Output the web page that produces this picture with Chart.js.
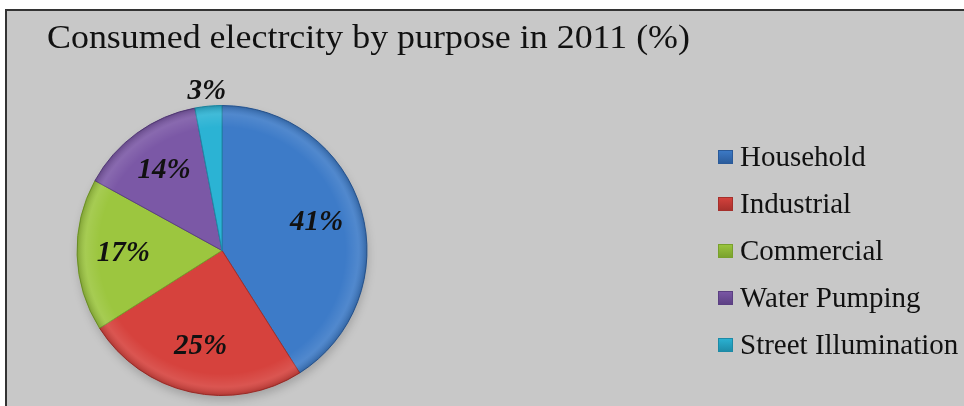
<!DOCTYPE html>
<html>
<head>
<meta charset="utf-8">
<script src="https://cdn.jsdelivr.net/npm/chart.js@4/dist/chart.umd.min.js"></script>
<style>
  html, body { margin: 0; padding: 0; background: #ffffff; }
  #wrap { position: relative; width: 964px; height: 406px; }
  canvas { display: block; }
</style>
</head>
<body>
<div id="wrap"><canvas id="c" width="964" height="406"></canvas></div>
<script>
const titleText = "Consumed electrcity by purpose in 2011 (%)";
const categories = ["Household", "Industrial", "Commercial", "Water Pumping", "Street Illumination"];
const shares = [41, 25, 17, 14, 3];
const sliceColors = ["#3d7bc8", "#d6423d", "#9cc63f", "#7b58a6", "#2bb3d4"];
const sliceEdges = ["#2a5a99", "#a52f2b", "#78a02c", "#5b3f82", "#1d8aa6"];

const framePlugin = {
  id: 'frame',
  beforeDraw(chart) {
    const ctx = chart.ctx;
    ctx.save();
    ctx.fillStyle = '#ffffff';
    ctx.fillRect(0, 0, chart.width, chart.height);
    ctx.fillStyle = '#c8c8c8';
    ctx.fillRect(6, 10, chart.width - 6, chart.height - 10);
    ctx.strokeStyle = '#333333';
    ctx.lineWidth = 2;
    ctx.beginPath();
    ctx.moveTo(6, chart.height);
    ctx.lineTo(6, 10);
    ctx.lineTo(chart.width, 10);
    ctx.stroke();
    ctx.font = '33px "Liberation Serif", "Times New Roman", serif';
    ctx.fillStyle = '#111111';
    ctx.textBaseline = 'alphabetic';
    const w = ctx.measureText(titleText).width;
    const sx = 643 / w;
    ctx.translate(47, 48);
    ctx.scale(sx, 1);
    ctx.fillText(titleText, 0, 0);
    ctx.restore();
    const meta = chart.getDatasetMeta(0);
    if (meta.data.length) {
      const a = meta.data[0];
      ctx.save();
      ctx.fillStyle = 'rgba(0,0,0,0.18)';
      ctx.filter = 'blur(4px)';
      ctx.beginPath();
      ctx.arc(a.x + 1, a.y + 5, a.outerRadius, 0, Math.PI * 2);
      ctx.fill();
      ctx.restore();
    }
  }
};

const labelPlugin = {
  id: 'sliceLabels',
  afterDatasetsDraw(chart) {
    const ctx = chart.ctx;
    const meta = chart.getDatasetMeta(0);
    const vals = chart.data.datasets[0].data;
    ctx.save();
    meta.data.forEach((arc) => {
      const g = ctx.createRadialGradient(arc.x, arc.y, arc.outerRadius * 0.85, arc.x, arc.y, arc.outerRadius);
      g.addColorStop(0, 'rgba(255,255,255,0)');
      g.addColorStop(0.6, 'rgba(255,255,255,0.10)');
      g.addColorStop(1, 'rgba(0,0,0,0.18)');
      ctx.fillStyle = g;
      ctx.beginPath();
      ctx.moveTo(arc.x, arc.y);
      ctx.arc(arc.x, arc.y, arc.outerRadius, arc.startAngle, arc.endAngle);
      ctx.closePath();
      ctx.fill();
    });
    ctx.font = 'italic bold 29px "Liberation Serif", "Times New Roman", serif';
    ctx.fillStyle = '#111111';
    ctx.textAlign = 'center';
    ctx.textBaseline = 'middle';
    meta.data.forEach((arc, i) => {
      const mid = (arc.startAngle + arc.endAngle) / 2;
      const r = vals[i] < 5 ? arc.outerRadius + 15 : arc.outerRadius * 0.68;
      const x = arc.x + Math.cos(mid) * r;
      const y = arc.y + Math.sin(mid) * r;
      ctx.fillText(vals[i] + '%', x, y);
    });
    ctx.restore();
  }
};

const legendPlugin = {
  id: 'sideLegend',
  afterDraw(chart) {
    const ctx = chart.ctx;
    const ds = chart.data.datasets[0];
    ctx.save();
    ctx.font = '29px "Liberation Serif", "Times New Roman", serif';
    ctx.textBaseline = 'middle';
    ctx.textAlign = 'left';
    chart.data.labels.forEach((lab, i) => {
      const cy = 157 + i * 47;
      const bx = 718, by = cy - 7, bw = 15, bh = 14;
      const g = ctx.createLinearGradient(0, by, 0, by + bh);
      g.addColorStop(0, ds.backgroundColor[i]);
      g.addColorStop(1, ds.borderColor[i]);
      ctx.fillStyle = g;
      ctx.fillRect(bx, by, bw, bh);
      ctx.strokeStyle = ds.borderColor[i];
      ctx.lineWidth = 1;
      ctx.strokeRect(bx + 0.5, by + 0.5, bw - 1, bh - 1);
      ctx.fillStyle = '#111111';
      ctx.fillText(lab, 740, cy + 1);
    });
    ctx.restore();
  }
};

new Chart(document.getElementById('c'), {
  type: 'pie',
  data: {
    labels: categories,
    datasets: [{
      data: shares,
      backgroundColor: sliceColors,
      borderColor: sliceEdges,
      borderWidth: 1
    }]
  },
  options: {
    responsive: false,
    animation: false,
    layout: { padding: { left: 76, right: 596, top: 105, bottom: 10 } },
    plugins: {
      legend: { display: false },
      title: { display: false },
      tooltip: { enabled: false }
    }
  },
  plugins: [framePlugin, labelPlugin, legendPlugin]
});
</script>
</body>
</html>
